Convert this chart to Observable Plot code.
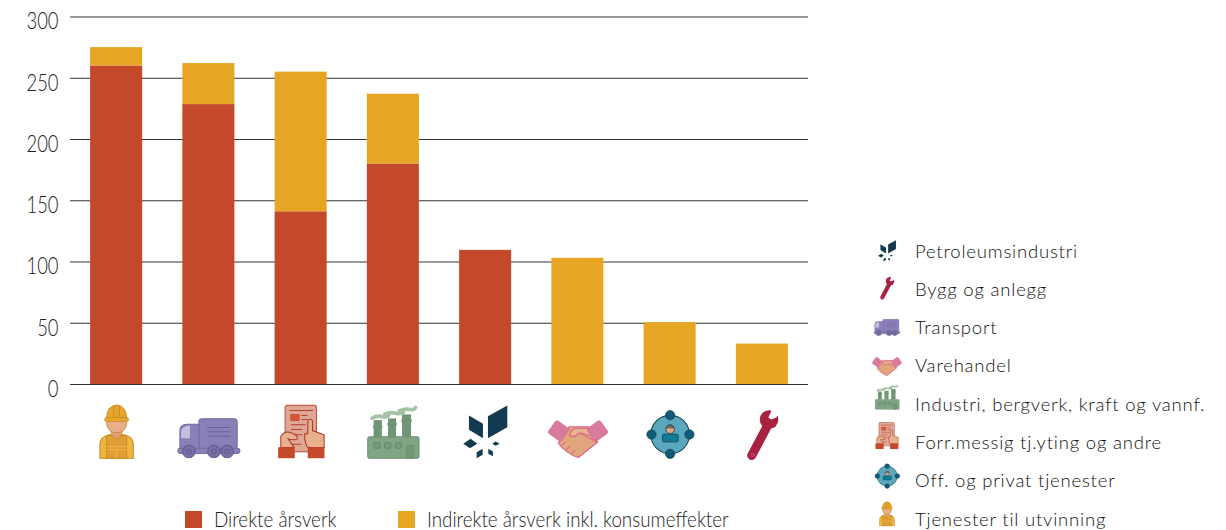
<!DOCTYPE html>
<html lang="no">
<head>
<meta charset="utf-8">
<script src="https://cdn.jsdelivr.net/npm/d3@7"></script>
<script src="https://cdn.jsdelivr.net/npm/@observablehq/plot@0.6"></script>
<style>
  html,body{margin:0;padding:0;background:#fff;overflow:hidden}
  #page{position:relative;width:1226px;height:530px;overflow:hidden}
  #page svg{display:block}
  .key{position:absolute;font-family:Lato,sans-serif;font-weight:300;font-size:22px;color:#222;white-space:nowrap;line-height:1;transform:scaleX(.854);transform-origin:0 0}
  .swatch{position:absolute;width:17px;height:17px}
  .ind{position:absolute;font-family:Lato,sans-serif;font-weight:300;font-size:18.5px;letter-spacing:.8px;color:#111;white-space:nowrap;line-height:1;transform:translateY(-50%)}
  .ico{position:absolute;transform:translate(-50%,-50%)}
</style>
</head>
<body>
<div id="page"></div>
<script>
// Data
const categories = ["Tjenester til utvinning","Transport","Forr.messig tj.yting og andre","Industri, bergverk, kraft og vannf.","Petroleumsindustri","Varehandel","Off. og privat tjenester","Bygg og anlegg"];
const direkte   = [260,228.5,141,180,109.5,0,0,0];
const indirekte = [15,33.5,114,57,0,103,50.5,33];
const seriesNames = ["Direkte årsverk","Indirekte årsverk inkl. konsumeffekter"];
const seriesColors = ["#c4492a","#e6a623"];
const yTicks = [0,50,100,150,200,250,300];
const industryLegend = ["Petroleumsindustri","Bygg og anlegg","Transport","Varehandel","Industri, bergverk, kraft og vannf.","Forr.messig tj.yting og andre","Off. og privat tjenester","Tjenester til utvinning"];

// Pictograms: hand-drawn SVG artwork, one per industry
const art = {
 "Tjenester til utvinning":["8 20 200 180",`
  <path d="M58 188V146Q58 124 84 118L132 118Q158 124 158 146V188Z" fill="#efb541" stroke="#c8871d" stroke-width="3"/>
  <path d="M78 188V120H138V188Z" fill="#dd9f36" stroke="#c8871d" stroke-width="2.5"/>
  <path d="M78 153H138M78 163H138M108 163V188" stroke="#efb541" stroke-width="3" fill="none"/>
  <path d="M92 100H124V118L108 130L92 118Z" fill="#e2a17c" stroke="#c8871d" stroke-width="2"/>
  <path d="M78 74H138V85Q136 110 108 112Q80 110 78 85Z" fill="#e9ae8c" stroke="#c8871d" stroke-width="2.5"/>
  <path d="M78 68Q78 32 108 28Q138 32 138 68Z" fill="#e6a52c" stroke="#c8871d" stroke-width="2.5"/>
  <path d="M100 30V66M116 30V66" stroke="#c8871d" stroke-width="2.5"/>
  <rect x="72" y="66" width="72" height="12" rx="6" fill="#e6a52c" stroke="#c8871d" stroke-width="2"/>`],
 "Transport":["285 20 200 180",`
  <rect x="355" y="70" width="115" height="90" rx="9" fill="#8b7fb9" stroke="#756aa2" stroke-width="3"/>
  <path d="M380 96H450M380 109H450M380 122H450" stroke="#6c6198" stroke-width="3"/>
  <path d="M298 160V106Q298 86 320 86H356V160Z" fill="#8b7fb9" stroke="#756aa2" stroke-width="3"/>
  <path d="M300 130V108Q302 90 330 88V130Z" fill="#c6bedf" stroke="#756aa2" stroke-width="2"/>
  <rect x="292" y="158" width="186" height="16" rx="8" fill="#8b7fb9" stroke="#756aa2" stroke-width="3"/>
  <g fill="#7a6ea8" stroke="#64598f" stroke-width="3"><circle cx="325" cy="168" r="19"/><circle cx="400" cy="168" r="19"/><circle cx="440" cy="168" r="19"/>
  <circle cx="325" cy="168" r="7" fill="none"/><circle cx="400" cy="168" r="7" fill="none"/><circle cx="440" cy="168" r="7" fill="none"/></g>`],
 "Forr.messig tj.yting og andre":["561 20 200 180",`
  <rect x="613" y="29" width="94" height="140" rx="7" fill="#dfa796" stroke="#bb4a36" stroke-width="3"/>
  <path d="M625 45H697M662 60H680M662 72H680M630 88H675M630 102H665M630 118H665M634 146H662" stroke="#b8402e" stroke-width="3" fill="none"/>
  <rect x="630" y="57" width="25" height="18" fill="#d65531" stroke="#b8402e" stroke-width="2"/>
  <path d="M600 156V122Q612 106 626 110Q652 118 650 130Q640 136 622 130L640 156Z" fill="#e9b08c" stroke="#a83226" stroke-width="3"/>
  <path d="M681 156Q670 140 672 115H681V76Q688 66 695 76V105L730 118V156Z" fill="#e9b08c" stroke="#a83226" stroke-width="3"/>
  <rect x="592" y="155" width="50" height="33" fill="#c4492a"/><rect x="681" y="155" width="50" height="33" fill="#c4492a"/>`],
 "Industri, bergverk, kraft og vannf.":["838 20 200 180",`
  <g fill="#6f9776" stroke="#5f8566" stroke-width="2"><rect x="880" y="75" width="22" height="50"/><rect x="923" y="70" width="22" height="55"/><rect x="965" y="58" width="25" height="67"/></g>
  <g fill="#6f9776"><rect x="877" y="90" width="28" height="8"/><rect x="920" y="82" width="28" height="8"/><rect x="962" y="72" width="31" height="8"/></g>
  <path d="M874 68Q890 58 908 64Q920 66 925 58M912 56Q930 48 948 54Q962 56 968 50M955 46Q975 38 990 42Q1000 44 1005 36" stroke="#a5c2a7" stroke-width="11" fill="none" stroke-linecap="round"/>
  <rect x="861" y="124" width="154" height="64" rx="6" fill="#80a585" stroke="#6c9072" stroke-width="3"/>
  <g fill="#7b9b7e" stroke="#5c7d62" stroke-width="2.5"><rect x="880" y="142" width="18" height="16" rx="2"/><rect x="912" y="142" width="18" height="16" rx="2"/><rect x="944" y="142" width="18" height="16" rx="2"/></g>
  <rect x="976" y="150" width="24" height="38" fill="#76966f" stroke="#6c9072" stroke-width="2"/>`],
 "Petroleumsindustri":["35 20 200 180",`
  <g fill="#123a50"><path d="M85 60L127 85V128L85 103Z"/><path d="M142 62L200 30V95L142 128Z"/>
  <path d="M68 145L90 130L110 145L88 158Z"/><path d="M155 145L165 138L177 145L165 151Z"/><path d="M108 170L126 160V178L108 188Z"/><path d="M143 160L157 168V182L143 175Z"/></g>`],
 "Varehandel":["311 20 200 180",`
  <path d="M352 142L385 94H442L470 140L412 186Q395 182 380 170Q362 158 352 142Z" fill="#e1a67c" stroke="#d9648a" stroke-width="3"/>
  <path d="M405 98Q385 105 388 120Q400 128 415 112L470 140L412 186M362 150L374 140M374 164L388 152M392 176L404 164" fill="none" stroke="#d9648a" stroke-width="3"/>
  <path d="M405 98H442L458 122L415 112Q400 128 388 120Q385 105 405 98Z" fill="#eab38c" stroke="#d9648a" stroke-width="3"/>
  <rect x="-24" y="-23" width="48" height="46" rx="7" transform="translate(353 106) rotate(35)" fill="#d97a9f" stroke="#d0668c" stroke-width="2"/>
  <rect x="-24" y="-23" width="48" height="46" rx="7" transform="translate(470 106) rotate(-35)" fill="#d97a9f" stroke="#d0668c" stroke-width="2"/>`],
 "Off. og privat tjenester":["587 20 200 180",`
  <circle cx="687" cy="117" r="58" fill="#5aa8bd" stroke="#123e55" stroke-width="3"/>
  <g fill="#0f5b78" stroke="#123e55" stroke-width="2"><circle cx="687" cy="59" r="14"/><circle cx="631" cy="117" r="14"/><circle cx="745" cy="117" r="14"/><circle cx="687" cy="175" r="14"/></g>
  <rect x="664" y="116" width="47" height="23" rx="4" fill="#0f7f96" stroke="#123e55" stroke-width="2.5"/>
  <circle cx="687" cy="101" r="13" fill="#e3a97f" stroke="#123e55" stroke-width="2.5"/>
  <path d="M675 97Q687 80 699 97Z" fill="#a36d4a" stroke="#123e55" stroke-width="2"/>`],
 "Bygg og anlegg":["864 20 200 180",`
  <path d="M932 180L984 82" stroke="#a8213f" stroke-width="27" stroke-linecap="round"/>
  <circle cx="984" cy="72" r="28" fill="#a8213f"/>
  <path d="M982 66L994 40H1004L1014 52L1006 66L990 72Z" fill="#fff"/>
  <circle cx="935" cy="178" r="4.5" fill="none" stroke="#d16a80" stroke-width="2"/>`]
};
const iconUri = name => "data:image/svg+xml," + encodeURIComponent(
  `<svg xmlns="http://www.w3.org/2000/svg" viewBox="${art[name][0]}" width="200" height="180">${art[name][1]}</svg>`);

// Long table built from the arrays
const table = categories.flatMap((c,i)=>[
  {category:c, series:seriesNames[0], value:direkte[i]},
  {category:c, series:seriesNames[1], value:indirekte[i]}
]);

const chart = Plot.plot({
  width:1226, height:500,
  marginLeft:70, marginRight:418, marginTop:16.5, marginBottom:116,
  style:{background:"#fff",fontFamily:"Lato,sans-serif",fontWeight:300,overflow:"visible"},
  x:{domain:categories, paddingInner:0.436, paddingOuter:0.218, round:false, axis:null},
  y:{domain:[0,300], ticks:yTicks},
  color:{domain:seriesNames, range:seriesColors},
  marks:[
    Plot.ruleY(yTicks,{stroke:"#333",strokeWidth:1}),
    Plot.barY(table,{x:"category",y:"value",fill:"series",order:seriesNames}),
    Plot.axisY({ticks:yTicks,tickSize:0,tickPadding:12,label:null,fontSize:23,dy:5,fill:"#222"}),
    Plot.image(categories,{x:d=>d,frameAnchor:"bottom",dy:47.7,width:66.67,height:60,src:iconUri})
  ]
});
const page = document.getElementById("page");
page.appendChild(chart);

// Condense the tick labels to the reference's narrow letterforms
chart.querySelectorAll("g[aria-label='y-axis tick label'] text").forEach(t=>{
  t.setAttribute("lengthAdjust","spacingAndGlyphs");
  t.setAttribute("textLength",t.getComputedTextLength()*0.8);
});

// Bottom legend
const keyLayout = [{sw:185,tx:214},{sw:398,tx:427}];
seriesNames.forEach((n,i)=>{
  const s=document.createElement("div"); s.className="swatch";
  s.style.cssText=`left:${keyLayout[i].sw}px;top:511px;background:${seriesColors[i]}`;
  const t=document.createElement("div"); t.className="key"; t.textContent=n;
  t.style.cssText=`left:${keyLayout[i].tx}px;top:507.5px`;
  page.append(s,t);
});

// Right legend
const rowLayout = [
 {iy:251,s:.40,ty:251},{iy:287,s:.45,ty:289},{iy:325,s:.42,ty:327},{iy:362.7,s:.5,ty:365},
 {iy:397,s:.46,ty:404},{iy:435.7,s:.5,ty:442},{iy:475,s:.52,ty:480},{iy:513.7,s:.45,ty:519}];
industryLegend.forEach((n,i)=>{
  const r=rowLayout[i];
  const img=new Image(); img.className="ico"; img.alt=""; img.src=iconUri(n);
  img.style.cssText=`left:887px;top:${r.iy}px;width:${66.67*r.s}px;height:${60*r.s}px`;
  const t=document.createElement("div"); t.className="ind"; t.textContent=n;
  t.style.cssText=`left:915px;top:${r.ty}px`;
  page.append(img,t);
});
</script>
</body>
</html>
